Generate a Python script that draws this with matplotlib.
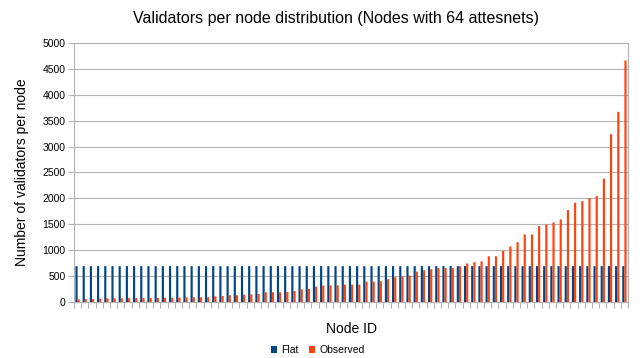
import matplotlib
matplotlib.use("Agg")
import matplotlib.pyplot as plt
import numpy as np

plt.rcParams['font.family'] = ['Liberation Sans', 'DejaVu Sans']

title = "Validators per node distribution (Nodes with 64 attesnets)"
ylabel = "Number of validators per node"
xlabel = "Node ID"
series_names = ["Flat", "Observed"]

observed = [50, 55, 55, 65, 70, 70, 72, 72, 75, 75, 75, 78, 80, 80, 85, 88,
            91, 91, 91, 110, 116, 130, 130, 143, 149, 155, 188, 188, 188, 194,
            213, 246, 252, 297, 316, 323, 323, 336, 336, 336, 394, 394, 400,
            439, 478, 491, 510, 588, 613, 632, 655, 655, 655, 690, 743, 768, 787,
            884, 884, 989, 1072, 1155, 1304, 1304, 1465, 1497, 1536, 1594, 1774,
            1916, 1949, 2007, 2045, 2380, 3239, 3671, 4663]
flat = [692, 692, 692, 692, 692, 692, 692, 692, 692, 692, 692, 692, 692, 692,
        692, 692, 692, 692, 692, 692, 692, 692, 692, 692, 692, 692, 692, 692,
        692, 692, 692, 692, 692, 692, 692, 692, 692, 692, 692, 692, 692, 692,
        692, 692, 692, 692, 692, 692, 692, 692, 692, 692, 692, 692, 692, 692,
        692, 692, 692, 692, 692, 692, 692, 692, 692, 692, 692, 692, 692, 692,
        692, 692, 692, 692, 692, 692, 692]
yticks = [0, 500, 1000, 1500, 2000, 2500, 3000, 3500, 4000, 4500, 5000]

blue = "#004586"
orange = "#ff420e"
grid = "#b3b3b3"

fig = plt.figure(figsize=(6.4, 3.58), dpi=100)
ax = fig.add_axes([74 / 640, 1 - 302 / 358, (628 - 74) / 640, (302 - 43) / 358])

x = np.arange(len(observed))
w = 0.3
ax.bar(x - w / 2, flat, width=w, color=blue, label=series_names[0], zorder=3,
       snap=False, linewidth=0)
ax.bar(x + w / 2, observed, width=w, color=orange, label=series_names[1], zorder=3,
       snap=False, linewidth=0)

ax.set_xlim(-0.5, len(observed) - 0.5)
ax.set_ylim(0, 5000)
ax.set_yticks(yticks)
ax.set_yticklabels([str(t) for t in yticks], fontsize=7.5)
ax.set_xticks(np.arange(len(observed) + 1) - 0.5)
ax.set_xticklabels([])
ax.tick_params(axis='x', length=4, color=grid, width=0.8)
ax.tick_params(axis='y', length=4, color=grid, width=0.8, pad=2)
ax.yaxis.grid(True, color=grid, linewidth=0.8, zorder=0)
ax.set_axisbelow(True)
for s in ax.spines.values():
    s.set_color(grid)
    s.set_linewidth(0.8)

ax.set_ylabel(ylabel, fontsize=10, labelpad=10)
ax.set_xlabel(xlabel, fontsize=10, labelpad=7)
fig.text(336 / 640, 1 - 18 / 358, title, fontsize=11.5, ha='center', va='center')

leg = fig.legend(loc='center', bbox_to_anchor=(318 / 640, 1 - 350 / 358), ncol=2,
                 frameon=False, fontsize=7.5, handlelength=0.6, handleheight=0.6,
                 handletextpad=0.4, columnspacing=1.0, borderpad=0)

fig.savefig("out.png", dpi=100)
